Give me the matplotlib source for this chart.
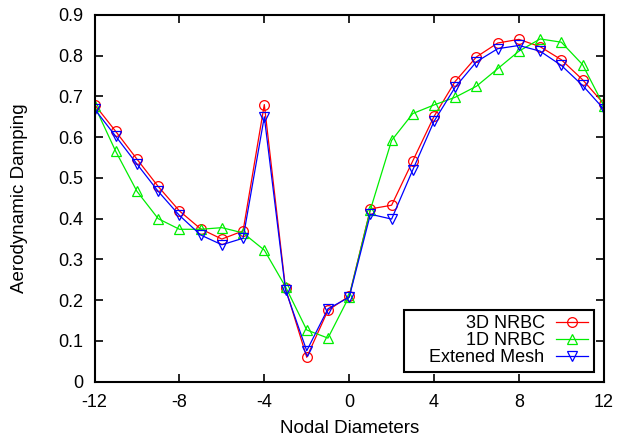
import matplotlib
matplotlib.use("Agg")
import matplotlib.pyplot as plt

# nodal diameters -12..12
nd = [-12, -11, -10, -9, -8, -7, -6, -5, -4, -3, -2, -1, 0,
      1, 2, 3, 4, 5, 6, 7, 8, 9, 10, 11, 12]

nrbc_3d = [0.680, 0.614, 0.546, 0.479, 0.419, 0.375, 0.350, 0.370, 0.680,
           0.229, 0.060, 0.175, 0.210, 0.424, 0.433, 0.542, 0.651, 0.737,
           0.797, 0.831, 0.840, 0.822, 0.790, 0.741, 0.682]

nrbc_1d = [0.677, 0.565, 0.467, 0.400, 0.374, 0.374, 0.378, 0.365, 0.323,
           0.233, 0.127, 0.107, 0.209, 0.422, 0.592, 0.658, 0.679, 0.698,
           0.725, 0.768, 0.811, 0.841, 0.833, 0.778, 0.677]

ext_mesh = [0.669, 0.602, 0.534, 0.467, 0.408, 0.360, 0.336, 0.352, 0.650,
            0.225, 0.076, 0.179, 0.207, 0.411, 0.399, 0.520, 0.639, 0.723,
            0.785, 0.817, 0.825, 0.811, 0.776, 0.727, 0.669]

xticks = [-12, -8, -4, 0, 4, 8, 12]
yticks = [0, 0.1, 0.2, 0.3, 0.4, 0.5, 0.6, 0.7, 0.8, 0.9]

plt.rcParams['font.family'] = ['Liberation Sans', 'DejaVu Sans']
plt.rcParams['font.size'] = 13

fig = plt.figure(figsize=(6.18, 4.38), dpi=100)
ax = fig.add_axes([0.153, 0.1285, 0.824, 0.8375])

ax.plot(nd, nrbc_3d, color='#ff0000', lw=0.9, marker='o', ms=7,
        mfc='none', mec='#ff0000', mew=0.9, label='3D NRBC')
ax.plot(nd, nrbc_1d, color='#00ee00', lw=0.9, marker='^', ms=7,
        mfc='none', mec='#00ee00', mew=0.9, label='1D NRBC')
# leading spaces widen the legend box to the left like gnuplot's key
ax.plot(nd, ext_mesh, color='#0000ff', lw=0.9, marker='v', ms=7,
        mfc='none', mec='#0000ff', mew=0.9, label='    Extened Mesh')

ax.set_xlim(-12, 12)
ax.set_ylim(0, 0.9)
ax.set_xticks(xticks)
ax.set_xticklabels([str(t) for t in xticks])
ax.set_yticks(yticks)
ax.set_yticklabels(['0'] + ['%.1f' % t for t in yticks[1:]])

ax.tick_params(direction='in', length=6, width=1.2, top=True, right=True)
ax.tick_params(axis='x', pad=9)
ax.tick_params(axis='y', pad=8)
for s in ax.spines.values():
    s.set_linewidth(1.5)

ax.set_xlabel('Nodal Diameters', fontsize=13.5)
ax.set_ylabel('Aerodynamic Damping', fontsize=13.5)
ax.xaxis.set_label_coords(0.5, -0.105)
ax.yaxis.set_label_coords(-0.13, 0.5)

leg = ax.legend(loc='lower right', markerfirst=False, fancybox=False,
                framealpha=1, edgecolor='black', borderaxespad=0.55,
                handlelength=1.8, labelspacing=0.0, borderpad=0.3,
                handletextpad=0.63, fontsize=13)
leg.get_frame().set_linewidth(1.5)
for t in leg.get_texts():
    t.set_ha('right')

fig.savefig('out.png', dpi=100)
